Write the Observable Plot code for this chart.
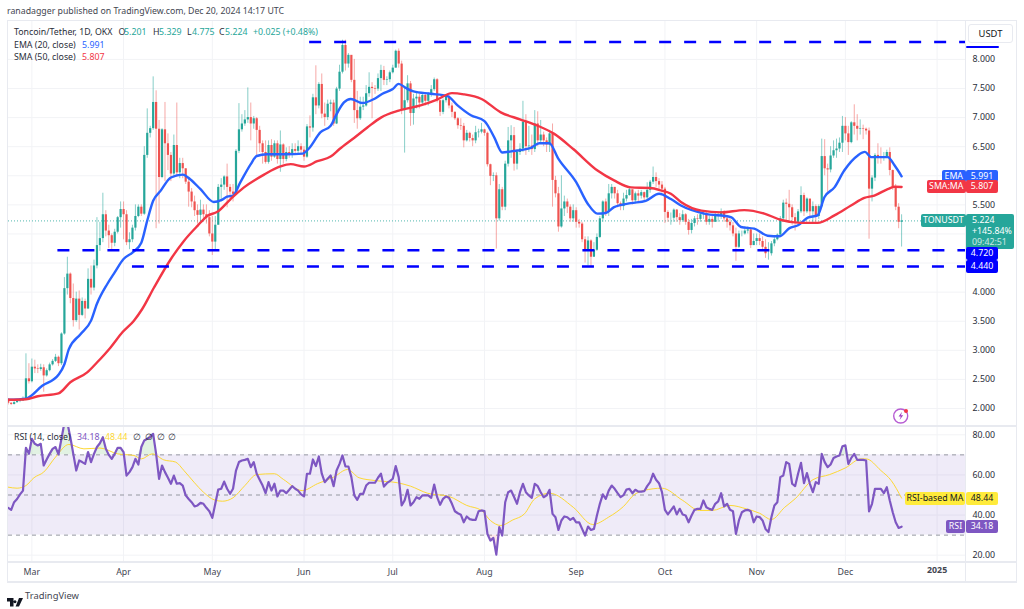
<!DOCTYPE html>
<html><head><meta charset="utf-8">
<script src="https://cdn.jsdelivr.net/npm/d3@7"></script>
<script src="https://cdn.jsdelivr.net/npm/@observablehq/plot@0.6"></script>
<style>
html,body{margin:0;padding:0;background:#fff;overflow:hidden}
#page{position:relative;width:1024px;height:609px;font-family:"Noto Sans",sans-serif;color:#131722;overflow:hidden}
#page svg.plot{position:absolute;left:0;background:transparent}
.t{position:absolute;white-space:nowrap;font-size:8.8px;line-height:13px;color:#2a2e39}
.box{position:absolute;white-space:nowrap;font-size:8.8px;display:flex;align-items:center;justify-content:center;color:#fff;border-radius:2px}
.line{position:absolute;background:#e8eaf0}
</style></head><body><div id="page"></div>
<script>
const startDate = Date.UTC(2024,1,22);
const closes = [
2.09,2.07,2.10,2.12,2.13,2.16,2.51,2.46,2.71,2.68,
2.67,2.70,2.56,2.65,2.75,2.81,2.88,2.77,3.28,4.06,
4.31,3.89,3.51,3.88,3.60,3.84,3.71,4.22,4.07,4.45,
4.80,4.92,5.33,5.05,4.97,4.84,5.03,5.28,5.42,5.33,
4.85,4.90,5.10,5.30,5.46,5.34,6.35,6.73,6.81,7.26,
6.80,5.97,6.79,6.55,6.35,6.03,6.52,6.05,6.21,6.12,
5.89,5.72,5.55,5.40,5.32,5.41,5.33,5.28,5.00,4.86,
5.15,5.80,5.84,5.98,5.80,5.72,5.68,6.42,6.79,6.89,
6.96,7.00,6.89,6.98,6.78,6.55,6.40,6.23,6.52,6.32,
6.55,6.28,6.53,6.28,6.40,6.36,6.45,6.42,6.50,6.44,
6.32,6.84,6.82,7.34,7.20,7.57,7.06,7.00,7.23,7.25,
6.89,7.49,7.78,8.24,7.92,8.07,7.64,7.12,6.98,7.18,
7.20,7.41,7.52,7.50,7.49,7.67,7.81,7.64,7.65,7.77,
7.85,8.14,7.92,7.12,7.29,7.58,7.07,7.32,7.35,7.25,
7.38,7.28,7.41,7.48,7.65,7.29,7.09,7.29,7.36,7.20,
7.09,6.98,6.86,6.85,6.60,6.73,6.64,6.60,6.74,6.75,
6.79,6.73,6.19,5.99,6.00,5.26,5.76,5.46,6.20,6.60,
6.69,6.20,6.40,6.46,6.92,6.50,6.51,6.45,6.89,6.60,
6.70,6.60,6.53,6.72,5.92,5.69,5.12,5.43,5.55,5.46,
5.26,5.40,5.20,5.17,4.90,4.72,4.88,4.60,4.72,4.94,
5.26,5.55,5.37,5.69,5.80,5.69,5.52,5.47,5.60,5.66,
5.76,5.57,5.69,5.65,5.71,5.62,5.75,5.89,5.97,5.90,
5.84,5.77,5.37,5.27,5.27,5.41,5.28,5.23,5.33,5.20,
5.06,5.18,5.26,5.25,5.33,5.35,5.20,5.25,5.20,5.30,
5.30,5.38,5.26,5.20,5.14,5.00,4.77,5.00,5.00,5.05,
5.07,4.80,4.87,4.92,4.87,4.77,4.66,4.66,4.83,4.90,
4.98,5.26,5.53,5.51,5.45,5.28,5.20,5.38,5.66,5.38,
5.60,5.38,5.47,5.30,5.47,6.33,6.12,6.10,6.34,6.43,
6.46,6.56,6.85,6.72,6.57,6.91,6.85,6.80,6.81,6.80,
6.77,5.77,5.96,6.35,6.33,6.30,6.32,6.40,6.09,5.80,
5.46,5.20,5.224];
const highs = [
2.16,2.10,2.12,2.14,2.16,2.20,2.94,2.77,2.85,2.83,
2.75,2.76,2.75,2.68,2.78,2.84,2.93,2.90,3.30,4.25,
4.60,4.33,4.14,4.00,4.02,3.90,3.88,4.40,4.45,4.55,
5.28,5.20,5.70,5.40,5.15,5.00,5.08,5.30,5.55,5.55,
5.40,5.02,5.15,5.50,5.50,5.50,6.50,7.15,6.85,7.70,
7.46,6.95,6.81,7.26,6.72,6.40,6.70,7.25,6.30,6.30,
6.12,5.95,5.78,5.65,5.50,5.58,5.50,5.50,5.40,5.30,
5.30,5.85,5.95,6.00,6.20,5.85,5.85,6.45,7.24,7.05,
7.12,7.51,7.25,7.02,7.00,6.85,6.60,6.60,6.60,6.62,
6.60,6.60,6.77,6.55,6.48,6.50,6.55,6.55,6.60,6.55,
6.50,6.88,7.03,7.40,7.89,7.60,7.75,7.25,7.30,7.30,
7.30,7.52,7.90,8.33,8.33,8.10,8.05,8.00,7.45,7.35,
7.35,7.55,7.77,7.60,7.55,7.75,7.90,7.88,7.70,7.80,
7.90,8.16,8.18,7.97,7.50,7.72,7.62,7.40,7.42,7.40,
7.42,7.40,7.43,7.55,7.68,7.67,7.30,7.32,7.38,7.38,
7.25,7.10,7.00,6.98,6.90,6.78,6.75,6.70,6.85,6.80,
6.90,6.80,6.75,6.20,6.05,6.05,5.85,5.80,6.25,6.83,
6.86,6.83,6.45,6.55,7.28,7.05,6.85,6.70,7.12,7.10,
6.95,6.75,6.65,6.78,6.89,5.99,5.80,6.00,5.65,5.60,
5.50,5.50,5.45,5.25,5.20,4.95,4.95,4.90,4.85,5.00,
5.30,5.57,5.60,5.85,5.85,5.80,5.75,5.55,5.70,5.75,
5.80,5.75,5.72,5.75,5.75,5.72,5.88,5.92,6.15,6.05,
5.95,5.90,5.80,5.40,5.36,5.43,5.42,5.35,5.40,5.35,
5.25,5.25,5.30,5.33,5.37,5.40,5.38,5.30,5.30,5.38,
5.35,5.43,5.40,5.32,5.28,5.20,5.10,5.05,5.05,5.12,
5.12,5.08,5.00,5.00,5.00,4.95,4.90,4.85,4.87,4.95,
5.00,5.30,5.58,5.60,5.75,5.50,5.35,5.42,5.81,5.70,
5.62,5.55,5.55,5.50,5.50,6.63,6.62,6.20,6.50,6.60,
6.63,6.65,7.02,7.00,6.85,6.93,7.22,7.05,6.96,6.87,
6.82,6.82,6.00,6.38,6.55,6.48,6.40,6.44,6.48,6.10,
5.85,5.52,5.329];
const lows = [
2.06,2.05,2.06,2.09,2.10,2.12,2.14,2.42,2.44,2.60,
2.60,2.64,2.28,2.54,2.63,2.73,2.79,2.72,2.74,3.26,
3.95,3.80,3.40,3.48,3.35,3.58,3.54,3.70,3.95,4.02,
4.40,4.70,4.85,4.95,4.75,4.72,4.78,5.00,5.10,4.90,
4.80,4.73,4.85,5.05,5.28,5.30,5.32,6.30,6.65,6.78,
5.09,5.17,5.95,5.90,6.09,5.90,5.99,5.97,5.95,5.95,
5.85,5.46,5.45,5.30,5.17,5.17,5.25,5.17,4.95,4.63,
4.71,5.15,5.55,5.75,5.45,5.60,5.55,5.68,6.38,6.75,
6.85,6.90,6.60,6.80,6.35,6.40,6.20,6.20,6.20,6.25,
6.30,6.20,6.06,6.20,6.24,6.30,6.30,6.35,6.38,6.35,
6.25,6.30,6.65,6.75,7.05,7.15,6.98,6.85,6.95,7.10,
6.85,6.88,7.45,7.75,7.80,7.85,7.60,6.90,6.80,6.95,
7.12,7.18,7.35,6.98,7.40,7.45,7.45,7.55,7.55,7.60,
7.75,7.85,7.85,7.05,6.39,7.25,6.85,6.87,7.15,7.15,
7.20,7.20,7.20,7.35,7.45,7.25,7.02,7.05,7.25,7.15,
7.00,6.95,6.80,6.78,6.48,6.58,6.58,6.50,6.55,6.65,
6.72,6.68,6.15,5.83,5.90,4.74,5.22,5.40,5.40,6.15,
6.30,6.08,6.10,6.35,6.40,6.35,6.40,6.35,6.40,6.50,
6.55,6.50,6.40,6.40,5.46,5.62,5.03,5.10,5.30,5.35,
5.20,5.20,5.10,5.10,4.85,4.50,4.45,4.43,4.60,4.70,
4.92,5.20,5.30,5.30,5.60,5.60,5.45,5.40,5.40,5.55,
5.65,5.50,5.52,5.55,5.60,5.55,5.58,5.70,5.85,5.80,
5.75,5.70,5.18,5.20,5.15,5.20,5.20,5.15,5.20,5.15,
4.98,5.00,5.12,5.15,5.20,5.25,5.15,5.15,5.10,5.20,
5.20,5.25,5.20,5.10,5.05,4.95,4.53,4.75,4.95,4.98,
5.00,4.75,4.80,4.80,4.80,4.70,4.58,4.55,4.62,4.78,
4.88,4.95,5.20,5.20,5.20,5.15,5.05,5.18,5.35,5.30,
5.35,5.30,5.20,5.20,5.25,5.45,6.00,5.68,6.05,6.30,
6.30,6.40,6.40,6.60,6.35,6.55,6.70,6.60,6.70,6.62,
6.70,4.91,5.55,5.90,6.20,6.20,6.25,6.30,6.00,5.75,
5.40,5.09,4.775];
const firstOpen = 2.16;

const emaDays = [0,6,11.5,17,19,20.5,24.5,28,30,33.5,36,39,42,45,47,49,51.5,55,59,61.5,65,69.5,72,74,76,78.5,82,84,87.5,94,99.5,101.5,105.6,109,111,113.5,115.8,119.7,123.7,126.5,130,132,134.4,137,142.8,148.5,151.9,156.4,161,164.3,167,170,176.7,179.5,182.9,186,192,195.9,199.2,202,204.8,210.5,215.5,220,224,227.4,235.3,244.3,247.7,252.2,256.7,260.7,264.1,267,270.3,273.6,275.9,279.3,282.6,287.2,289.6,291.7,297.3,299.6,302];
const emaValues = [2.15,2.17,2.39,2.58,2.76,3.02,3.28,3.51,3.80,4.14,4.34,4.57,4.68,4.85,5.23,5.57,5.74,5.97,6.02,5.94,5.77,5.55,5.58,5.64,5.66,5.89,6.20,6.34,6.37,6.37,6.38,6.46,6.75,6.86,7.06,7.26,7.32,7.25,7.32,7.41,7.49,7.58,7.51,7.45,7.41,7.37,7.21,7.04,6.94,6.66,6.40,6.42,6.48,6.56,6.56,6.29,5.89,5.52,5.35,5.36,5.46,5.53,5.57,5.69,5.60,5.49,5.35,5.29,5.12,5.09,4.97,4.96,5.10,5.15,5.28,5.32,5.63,5.80,6.09,6.35,6.41,6.32,6.32,6.18,5.991];
const smaDays = [0,6,10,17,21,26.7,30,34.6,38.6,42.5,45.3,49.3,55,59.4,64,67.3,70.7,75.2,79.7,86.5,92,95.5,100,104.5,109,112,116.9,121.4,126,132,139.4,145,150,154,160,166.5,173,179,184.6,191,199.2,204.8,210.5,217,220.6,224,227.4,234.3,241,248.8,255.6,261.3,268,273.6,279.3,284.9,289.4,292.8,297.3,299.6,302];
const smaValues = [2.15,2.16,2.21,2.26,2.45,2.62,2.79,3.05,3.31,3.51,3.71,4.08,4.57,4.88,5.14,5.31,5.38,5.60,5.80,6.02,6.16,6.20,6.16,6.25,6.33,6.46,6.65,6.83,7.00,7.12,7.21,7.31,7.42,7.40,7.32,7.09,6.97,6.86,6.72,6.46,6.09,5.92,5.80,5.79,5.75,5.69,5.55,5.40,5.37,5.41,5.35,5.24,5.19,5.19,5.32,5.49,5.62,5.66,5.77,5.81,5.807];

const rsiValues = [
43.6,42.6,46.4,48,50.3,52.2,73.5,70.5,78,75.5,74.7,75.5,64.7,67.7,70.5,73,73.9,70.2,78,86,
86,78.8,70.5,62.2,67.2,66.4,65.5,71.4,66.4,70.5,73.9,75.8,78.8,73,70,68,70.5,73.5,73.5,71.4,
59.7,61.4,63.9,68,65.2,73.9,77.2,78,78.8,80.5,70.5,58,64.7,61.4,58.6,55.6,59.7,55.6,55.9,54.7,
49.8,48,46.4,44.3,44.8,46.1,45.6,43.6,41.9,38.6,45.6,52.7,53.1,56.7,53.1,50.6,53.1,62.2,66.4,67.2,
67.5,68,63.9,66.4,60.6,57.6,54.7,50.9,56.4,52.2,55.6,49.3,52.2,52.2,50.9,52.6,54.4,53.1,52.2,50.3,
49.3,60.6,60.6,67.7,64.4,69.2,60.6,56.4,58.1,59.7,54.4,62.2,65.5,69.7,64.2,64.2,58.9,49.8,47.6,50.6,
50.6,54.7,56.1,56.1,56.1,58.6,60.6,54.2,55.9,56.9,58.1,64.4,58.9,44.8,47.3,52.6,44.8,46.4,48.9,48.1,
49.8,49.8,49.8,48.6,55.2,48.9,45.1,48.1,49.3,48.6,45.6,41.9,40.9,40.2,36.4,39.3,38,37.6,37.6,41.9,
42.3,42,30.6,27.3,28.6,20.3,34,29.8,46.4,51.4,52.2,49,45.6,51.4,55.6,51.4,49.8,48.6,55.6,54.4,
51.4,48.9,49.8,52.6,40.6,38.9,32.6,37.3,39.3,38.9,37.6,38.6,36.4,36.4,33.1,29.8,34.3,32.6,33.1,39.8,
45.6,50.3,48.1,52.2,54.7,53.1,50.9,48.9,49.9,52.7,53.1,50.9,52.6,51.7,51.7,51.9,54.4,56.4,60.6,57.6,
55.9,51.4,42.6,40.3,42.3,44.3,40.3,43.1,40.3,39.8,36.4,39.8,42.6,43.1,43.1,47.3,43.9,43.1,42.6,45.6,
46.8,50.9,44.3,45.6,42.6,41.9,30.6,37.3,41.4,42.3,42.6,41.9,36.4,39.3,39,37.3,33.1,31.5,39,44.8,
46.4,58.9,59.7,66.4,65.5,55.6,54.4,60.6,66,55.9,60.9,55.6,51.4,56.4,55.6,70.5,66.4,63.9,65.2,68.4,
69.2,69.7,74.3,74.7,65.5,68.5,70.5,67.5,67.5,67.5,67.2,41.8,45.6,53.1,53.1,53.1,50.9,53.9,47.3,41.4,
36.4,33.6,34.18];
const rsiMaDays = [0,3,6,8.7,12,16,20.5,25.6,31,37,42.5,45,48.7,52.6,56.6,59.4,62.8,66,69.6,72.4,76,80,84,90,93,99.4,104.5,110,114.7,118.6,124,131.6,136,141.7,149,155,160,163,166.5,170.6,174.5,178,183,191,197.6,203,208,212,218,221,228,233.7,238,244,249.5,254,258,262.5,266,272,277.7,283,288.3,290,295,298.5,302];
const rsiMaValues = [53.9,53.4,54.7,58.6,61.4,68.9,75.2,73,73.4,70.5,69.7,68,70.5,67.5,66.4,62.2,56.4,51.4,47.6,46.9,48.6,54.7,60.2,60.6,57.8,52.2,55.6,58.9,62.7,58.6,57.2,56.1,54.4,50.9,49.3,44.8,42.3,37.3,34.8,37.6,40.6,48.1,50.9,43.9,35.3,39,44.3,50.6,53.1,53.4,47.3,42.3,42.3,44.8,43.1,40.9,37.8,43.9,48.1,57.6,60.2,63.5,68,68,62.2,57.2,48.44];

const priceTicks = [2,2.5,3,3.5,4,4.5,5,5.5,6,6.5,7,7.5,8];
const priceLabels = [2,2.5,3,3.5,4,5.5,6.5,7,7.5,8];
const rsiTicks = [20,40,60,80];
const rsiGuides = [30,50,70];
const monthNames = ["Mar","Apr","May","Jun","Jul","Aug","Sep","Oct","Nov","Dec"];
const monthDates = [[2,1],[3,1],[4,1],[5,1],[6,1],[7,1],[8,1],[9,1],[10,1],[11,1]].map(([m,d])=>new Date(Date.UTC(2024,m,d)));
const yearDate = new Date(Date.UTC(2025,0,1));
const levelValues = [8.30,4.72,4.44];
const levelStartDays = [101.9,16.8,42];
const lastClose = 5.224, emaLast = 5.991, smaLast = 5.807, rsiLast = 34.18, rsiMaLast = 48.44;

const GREEN="#26a69a", RED="#ef5350", GRID="#f2f3f6";
const dayToDate = d => new Date(startDate + d*864e5);
const candles = closes.map((c,i)=>({date:dayToDate(i),close:c,open:i?closes[i-1]:firstOpen,high:highs[i],low:lows[i]}));
candles[302].open = 5.201;
const up = candles.filter(d=>d.close>=d.open), down = candles.filter(d=>d.close<d.open);
const xDomain = [dayToDate(0.1), dayToDate(323.6)];
const xRange = [8,965];
const FONT = '"Noto Sans",sans-serif';
const allMonths = [...monthDates, yearDate];

const price = Plot.plot({
  width:1024,height:426,marginLeft:8,marginRight:59,marginTop:21,marginBottom:0,
  style:{fontFamily:FONT,fontSize:"8.8px",background:"transparent",color:"#131722"},
  x:{type:"utc",domain:xDomain,range:xRange,axis:null},
  y:{type:"linear",domain:[7.5-338/58.18,7.5+67/58.18],range:[426,21],axis:null},
  marks:[
    Plot.ruleX(allMonths,{stroke:GRID}),
    Plot.ruleY(priceTicks,{stroke:GRID}),
    Plot.axisY(priceLabels,{anchor:"right",tickSize:0,tickPadding:7,tickFormat:d3.format(".3f"),label:null,fill:"#2a2e39"}),
    Plot.ruleY([lastClose],{stroke:GREEN,strokeDasharray:"1,2",strokeOpacity:0.8}),
    Plot.ruleX(up,{x:"date",y1:"low",y2:"high",stroke:GREEN,strokeOpacity:0.55}),
    Plot.ruleX(down,{x:"date",y1:"low",y2:"high",stroke:RED,strokeOpacity:0.5}),
    Plot.ruleX(up,{x:"date",y1:"open",y2:"close",stroke:GREEN,strokeWidth:2.2}),
    Plot.ruleX(down,{x:"date",y1:"open",y2:"close",stroke:RED,strokeWidth:2.2}),
    Plot.line(emaValues,{x:(d,i)=>dayToDate(emaDays[i]),y:d=>d,stroke:"#2962ff",strokeWidth:2.4,curve:"monotone-x"}),
    Plot.line(smaValues,{x:(d,i)=>dayToDate(smaDays[i]),y:d=>d,stroke:"#f23645",strokeWidth:2.4,curve:"monotone-x"}),
    ...levelValues.map((v,i)=>Plot.ruleY([v],{x1:dayToDate(levelStartDays[i]),x2:xDomain[1],stroke:"#0000ff",strokeWidth:2.4,strokeDasharray:"12,13"}))
  ]
});

const rsi = Plot.plot({
  width:1024,height:156,marginLeft:8,marginRight:59,marginTop:1,marginBottom:20,
  style:{fontFamily:FONT,fontSize:"8.8px",background:"transparent",color:"#131722"},
  x:{type:"utc",domain:xDomain,range:xRange,axis:null},
  y:{type:"linear",domain:[20-7.3/2.007,80+7.3/2.007],range:[136,1],axis:null},
  marks:[
    Plot.ruleX(allMonths,{stroke:GRID}),
    Plot.ruleY(rsiTicks,{stroke:GRID}),
    Plot.rectY([0],{x1:xDomain[0],x2:xDomain[1],y1:rsiGuides[0],y2:rsiGuides[2],fill:"#7e57c2",fillOpacity:0.12}),
    Plot.ruleY(rsiGuides,{stroke:"#9598a1",strokeDasharray:"4,4",strokeWidth:1}),
    Plot.axisY(rsiTicks,{anchor:"right",tickSize:0,tickPadding:7,tickFormat:d3.format(".2f"),label:null,fill:"#2a2e39"}),
    Plot.areaY(rsiValues,{x:(d,i)=>dayToDate(i),y1:()=>rsiGuides[2],y2:d=>Math.max(d,rsiGuides[2]),fill:"#4caf50",fillOpacity:0.16,clip:true}),
    Plot.areaY(rsiValues,{x:(d,i)=>dayToDate(i),y1:()=>rsiGuides[0],y2:d=>Math.min(d,rsiGuides[0]),fill:"#f23645",fillOpacity:0.12,clip:true}),
    Plot.line(rsiMaValues,{x:(d,i)=>dayToDate(rsiMaDays[i]),y:d=>d,stroke:"#fdd835",strokeWidth:1,curve:"monotone-x"}),
    Plot.line(rsiValues,{x:(d,i)=>dayToDate(i),y:d=>d,stroke:"#7e57c2",strokeWidth:2.2,clip:true}),
    Plot.axisX(monthDates,{anchor:"bottom",tickSize:0,tickPadding:6,tickFormat:(d,i)=>monthNames[i],label:null,fill:"#434651"}),
    Plot.text([yearDate],{x:d=>d,text:()=>"2025",frameAnchor:"bottom",dy:10,fontWeight:"bold",fill:"#434651"})
  ]
});
rsi.style.top="426px"; price.style.top="0";
const page=document.getElementById("page");

function line(l,t,w,h){const e=document.createElement("div");e.className="line";e.style.cssText=`left:${l}px;top:${t}px;width:${w}px;height:${h}px`;page.append(e);}
line(7,20,1010,1);line(7,581,1010,1.5);line(7,20,1,562);line(1016,20,1,562);line(965,20,1,562);
line(7,425,1010,2);line(7,561,1010,1.5);
page.append(price,rsi);
function text(l,t,html,extra){const e=document.createElement("div");e.className="t";e.style.cssText=`left:${l}px;top:${t}px;${extra||""}`;e.innerHTML=html;page.append(e);}
function box(l,t,w,h,bg,txt,col){const e=document.createElement("div");e.className="box";e.style.cssText=`left:${l}px;top:${t}px;width:${w}px;height:${h}px;background:${bg};color:${col||"#fff"}`;e.textContent=txt;page.append(e);}
const py=v=>price.scale("y").apply(v), ry=v=>426+rsi.scale("y").apply(v);

text(7,4.5,"ranadagger published on TradingView.com, Dec 20, 2024 14:17 UTC","color:#434651;font-size:8.75px");
const G="color:#26a69a";
const s=(x,c,v)=>`<span class="t" style="left:${x}px;top:0;${c}">${v}</span>`;
text(14,25.5,"Toncoin/Tether, 1D, OKX");
text(118.5,25.5,"O");text(124,25.5,"5.201",G);text(153,25.5,"H");text(159,25.5,"5.329",G);text(187,25.5,"L");text(192,25.5,"4.775",G);text(219,25.5,"C");text(225,25.5,"5.224",G);text(253,25.5,"+0.025 (+0.48%)",G);
text(14,38.5,"EMA (20, close)");text(82,38.5,"5.991","color:#2962ff");
text(14,51,"SMA (50, close)");text(82,51,"5.807","color:#f23645");
text(14,431,"RSI (14, close)");text(77,431,"34.18","color:#7e57c2");text(105,431,"48.44","color:#fdd835");
[133,145,157,168].forEach(x=>text(x,431,"∅"));

// price tags
box(966,46,33,1.5,"#0000ff","");
const u=document.createElement("div");u.className="box";u.style.cssText="left:968px;top:24px;width:45px;height:19px;background:#fff;color:#131722;border:1px solid #e8eaf0;border-radius:3px;box-sizing:border-box;font-size:9.4px";u.textContent="USDT";page.append(u);
box(942,py(emaLast)-6,23.5,12,"#2962ff","EMA");box(966,py(emaLast)-6,32,12,"#2962ff",emaLast.toFixed(3));
box(927,py(smaLast)-6.5,38.5,13,"#f23645","SMA:MA");box(966,py(smaLast)-6.5,32,13,"#f23645",smaLast.toFixed(3));
box(921,py(lastClose)-6.5,44.5,13,"#26a69a","TONUSDT");
const lc=document.createElement("div");lc.className="box";lc.style.cssText=`left:966px;top:${py(lastClose)-6.5}px;width:48px;height:35px;background:#26a69a;flex-direction:column;line-height:11px;align-items:flex-start;padding-left:6px;box-sizing:border-box`;lc.innerHTML=`<span>${lastClose.toFixed(3)}</span><span>+145.84%</span><span style="opacity:.75">09:42:51</span>`;page.append(lc);
box(966,py(levelValues[1])-2.5,32,12.5,"#0000ff",levelValues[1].toFixed(3));
box(966,py(levelValues[2])-6,32,12.5,"#0000ff",levelValues[2].toFixed(3));
box(905,ry(rsiMaLast)-6,60,13,"#ffeb3b","RSI-based MA","#131722");box(966,ry(rsiMaLast)-6,32,13,"#ffeb3b",rsiMaLast.toFixed(2),"#131722");
box(946,ry(rsiLast)-6.5,19,13,"#7e57c2","RSI");box(966,ry(rsiLast)-6.5,32,13,"#7e57c2",rsiLast.toFixed(2));

// lightning badge and logo
const ns=document.createElement("div");ns.style.cssText="position:absolute;left:892px;top:407px;width:18px;height:18px";
ns.innerHTML=`<svg width="18" height="18" viewBox="0 0 18 18"><circle cx="8.7" cy="9" r="7" fill="#fff" stroke="#b65cd3" stroke-width="1.4"/><path d="M10 4.8 L6.6 9.6 H8.8 L7.6 13 L11.2 8.2 H9 Z" fill="#a23fc4"/><circle cx="14" cy="4" r="2" fill="#f23645"/></svg>`;page.append(ns);
const lg=document.createElement("div");lg.style.cssText="position:absolute;left:7px;top:591px;width:16px;height:10px";
lg.innerHTML=`<svg width="16" height="10" viewBox="0 0 16 10"><path d="M0 0H6.5V8.5H3V3.5H0Z M8 2.2a1.5 1.5 0 1 0 .01 0Z M12 0H16L12 8.5H8.6Z" fill="#131722"/></svg>`;page.append(lg);
text(25,589,"TradingView","font-size:9.4px;color:#434651");
</script></body></html>
